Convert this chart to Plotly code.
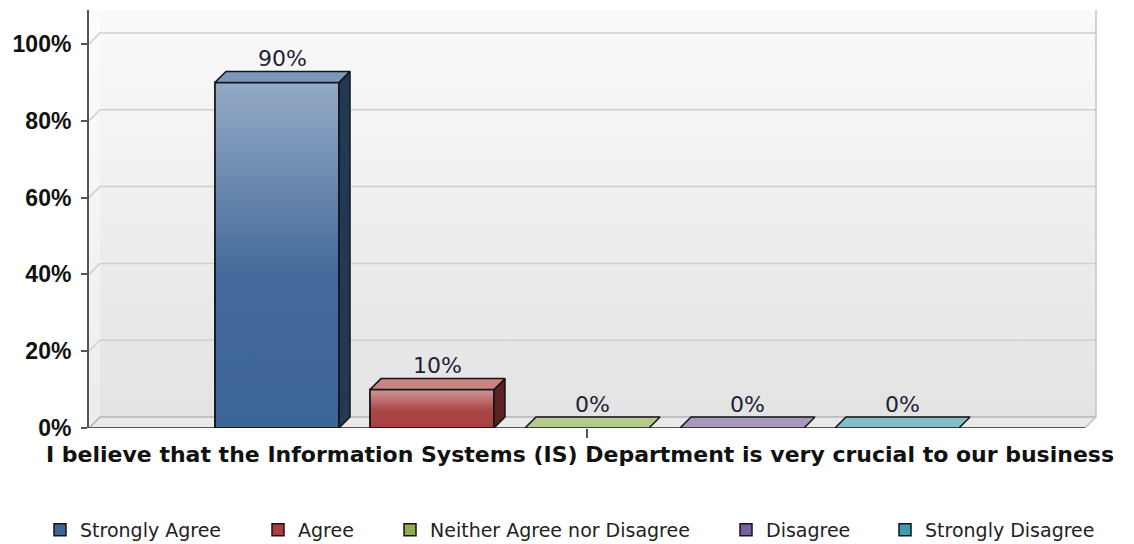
import plotly.graph_objects as go

# ---------------- data ----------------
categories = ["Strongly Agree", "Agree", "Neither Agree nor Disagree", "Disagree", "Strongly Disagree"]
values = [90, 10, 0, 0, 0]
value_labels = ["90%", "10%", "0%", "0%", "0%"]
question = ["I believe that the Information Systems (IS) Department is very crucial to our business"]
y_ticks = [0, 20, 40, 60, 80, 100]
y_tick_labels = ["0%", "20%", "40%", "60%", "80%", "100%"]

# ---------------- styles ----------------
front_colors = ["#3d6597", "#a83f3f", "#8fae52", "#7a5fa0", "#3f9db1"]
top_colors = ["#7d98bd", "#c98383", "#b4ca8b", "#a898bf", "#86bdcb"]
side_colors = ["#223855", "#5a2222", "#4d5e2b", "#44335a", "#22596a"]
legend_text_px = [80, 298, 430, 766, 925]   # left edge of each legend text (page px)
OUTLINE = "#151515"

PAGE_OFFSET = 8          # default body margin of the html page
W, H = 1134 - PAGE_OFFSET, 544 - PAGE_OFFSET
ML, MT, MB = 89 - PAGE_OFFSET, 10 - PAGE_OFFSET, 116
FRONT_W = 996.0          # px per category unit
PX_PER_PCT = 3.84        # px per percent
DEPTH = 11.0             # 3-D depth in px
X0 = -0.5
DX = DEPTH / FRONT_W
DY = DEPTH / PX_PER_PCT
X1 = 0.5 + DX + 1.0 / FRONT_W
PLOT_W = (X1 - X0) * FRONT_W
PLOT_H = H - MT - MB
MR = W - ML - PLOT_W
YMAX = PLOT_H / PX_PER_PCT
SLOT = 155.0 / FRONT_W
BW = 124.0 / FRONT_W
LEGEND_Y_PX = 530 - PAGE_OFFSET

fig = go.Figure()

# ---------- back scene (main subplot) ----------
fig.add_trace(go.Scatter(
    x=[X0 + DX, 0.5 + DX, 0.5 + DX, X0 + DX, X0 + DX],
    y=[DY, DY, YMAX, YMAX, DY],
    fill="toself", mode="lines", line=dict(width=0),
    fillgradient=dict(type="vertical", colorscale=[[0, "#e3e3e3"], [1, "#fafafa"]]),
    showlegend=False, hoverinfo="skip"))
fig.add_trace(go.Scatter(
    x=[X0, X0 + DX, X0 + DX, X0, X0],
    y=[0, DY, YMAX, YMAX, 0],
    fill="toself", mode="lines", line=dict(width=0),
    fillgradient=dict(type="vertical", colorscale=[[0, "#ececec"], [1, "#fcfcfc"]]),
    showlegend=False, hoverinfo="skip"))
fig.add_trace(go.Scatter(
    x=[X0, 0.5, 0.5 + DX, X0 + DX, X0],
    y=[0, 0, DY, DY, 0],
    fill="toself", mode="lines", line=dict(width=0), fillcolor="#e9e9e9",
    showlegend=False, hoverinfo="skip"))
for t in y_ticks:
    fig.add_trace(go.Scatter(
        x=[X0, X0 + DX, 0.5 + DX],
        y=[t, t + DY, t + DY],
        mode="lines", line=dict(color="#cfcfcf" if t else "#b5b5b5", width=1.5),
        showlegend=False, hoverinfo="skip"))
fig.add_trace(go.Scatter(
    x=[0.5, 0.5 + DX, 0.5 + DX],
    y=[0, DY, YMAX],
    mode="lines", line=dict(color="#c4c4c4", width=1.5),
    showlegend=False, hoverinfo="skip"))
fig.add_trace(go.Scatter(
    x=[X0, 0.5], y=[0, 0],
    mode="lines", line=dict(color="#555555", width=2),
    showlegend=False, hoverinfo="skip"))

# ---------- bars (overlay subplot) ----------
legend_names = ["legend"] + [f"legend{k}" for k in range(2, len(categories) + 1)]
for i, (cat, v) in enumerate(zip(categories, values)):
    c = (i - 2) * SLOT
    fig.add_trace(go.Bar(
        x=[c], y=[v], width=BW, name=cat, legend=legend_names[i],
        marker=dict(color=front_colors[i], line=dict(color=OUTLINE, width=1.5)),
        xaxis="x2", yaxis="y2", hovertemplate=f"{cat}: {value_labels[i]}<extra></extra>"))

for i, (cat, v) in enumerate(zip(categories, values)):
    c = (i - 2) * SLOT
    xa, xb = c - BW / 2, c + BW / 2
    if v > 0:
        fig.add_trace(go.Scatter(
            x=[xa, xb, xb, xa, xa], y=[0, 0, v, v, 0],
            fill="toself", mode="lines", line=dict(color=OUTLINE, width=1.5),
            fillgradient=dict(type="vertical", colorscale=[
                [0, "rgba(255,255,255,0)"], [0.45, "rgba(255,255,255,0.04)"],
                [1, "rgba(255,255,255,0.45)"]]),
            xaxis="x2", yaxis="y2", showlegend=False, hoverinfo="skip"))
        fig.add_trace(go.Scatter(
            x=[xb, xb + DX, xb + DX, xb, xb], y=[0, DY, v + DY, v, 0],
            fill="toself", mode="lines", fillcolor=side_colors[i],
            line=dict(color=OUTLINE, width=1.5),
            xaxis="x2", yaxis="y2", showlegend=False, hoverinfo="skip"))
    fig.add_trace(go.Scatter(
        x=[xa, xb, xb + DX, xa + DX, xa], y=[v, v, v + DY, v + DY, v],
        fill="toself", mode="lines", fillcolor=top_colors[i],
        line=dict(color=OUTLINE, width=1.5),
        xaxis="x2", yaxis="y2", showlegend=False, hoverinfo="skip"))
    fig.add_trace(go.Scatter(
        x=[c + DX / 2], y=[v + DY], mode="text", text=[value_labels[i]],
        textposition="top center",
        textfont=dict(family="DejaVu Sans", size=22, color="#1e1e38"),
        xaxis="x2", yaxis="y2", showlegend=False, hoverinfo="skip"))

legend_font = dict(family="DejaVu Sans", size=19, color="#222222")
legend_layouts = {}
for i, name in enumerate(legend_names):
    legend_layouts[name] = dict(
        orientation="h", x=(legend_text_px[i] - PAGE_OFFSET - 40 - ML) / PLOT_W, xanchor="left",
        y=(MT + PLOT_H - LEGEND_Y_PX) / PLOT_H, yanchor="middle",
        font=legend_font, bgcolor="rgba(0,0,0,0)", borderwidth=0)

fig.update_layout(
    width=W, height=H,
    margin=dict(l=ML, r=MR, t=MT, b=MB, pad=0, autoexpand=False),
    paper_bgcolor="white", plot_bgcolor="white",
    barmode="overlay",
    showlegend=True,
    xaxis=dict(range=[X0, X1], tickvals=[0], ticktext=question, automargin=False,
               ticks="outside", ticklen=9, tickwidth=1.5, tickcolor="#555555",
               showgrid=False, zeroline=False, showline=False, ticklabelshift=-7,
               ticklabelstandoff=-2,
               tickfont=dict(family="DejaVu Sans", size=22, weight="bold", color="#111111"),
               fixedrange=True),
    yaxis=dict(range=[0, YMAX], tickvals=y_ticks, ticktext=y_tick_labels, automargin=False,
               ticks="outside", ticklen=6, tickwidth=1.5, tickcolor="#555555",
               showgrid=False, zeroline=False, showline=True, linecolor="#555555", linewidth=2,
               ticklabelstandoff=5,
               tickfont=dict(family="Liberation Sans", size=23, weight="bold", color="#111111"),
               fixedrange=True),
    xaxis2=dict(range=[X0, X1], overlaying="x", visible=False, fixedrange=True),
    yaxis2=dict(range=[0, YMAX], overlaying="y", visible=False, fixedrange=True),
    **legend_layouts,
)

fig.write_html("out.html")
